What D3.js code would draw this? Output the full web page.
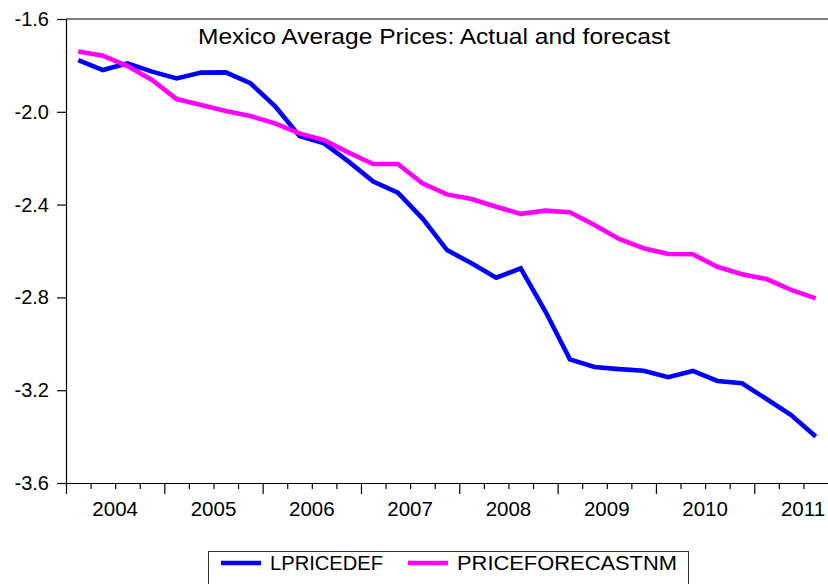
<!DOCTYPE html>
<html>
<head>
<meta charset="utf-8">
<script src="https://cdn.jsdelivr.net/npm/d3@7"></script>
<style>
  body { margin: 0; background: #fff; }
  svg { display: block; font-family: "Liberation Sans", Arial, sans-serif; }
</style>
</head>
<body>
<svg id="chart" width="828" height="584"></svg>
<script>
// quarterly observations, 2004Q1 .. 2011Q3
const startYear = 2004;
const lpricedef = [
  -1.777, -1.820, -1.791, -1.827, -1.856, -1.831, -1.830, -1.877,
  -1.975, -2.104, -2.136, -2.215, -2.301, -2.349, -2.459, -2.596,
  -2.653, -2.715, -2.675, -2.860, -3.067, -3.100, -3.109, -3.116,
  -3.144, -3.117, -3.160, -3.170, -3.238, -3.307, -3.400
];
const priceforecastnm = [
  -1.740, -1.758, -1.803, -1.863, -1.945, -1.971, -1.997, -2.018,
  -2.050, -2.093, -2.122, -2.176, -2.225, -2.225, -2.308, -2.356,
  -2.376, -2.409, -2.440, -2.426, -2.433, -2.488, -2.548, -2.588,
  -2.613, -2.614, -2.668, -2.700, -2.721, -2.768, -2.804
];
const yTicks = [-1.6, -2.0, -2.4, -2.8, -3.2, -3.6];
const seriesNames = ["LPRICEDEF", "PRICEFORECASTNM"];
const colors = ["#0000ff", "#ff00ff"];

const margin = { top: 19, right: 0, bottom: 101, left: 66 };
const width = 828, height = 584;
const n = lpricedef.length;

const svg = d3.select("#chart");

const x = d3.scaleLinear().domain([0, n]).range([margin.left, width - margin.right]);
const y = d3.scaleLinear().domain([-3.6, -1.6]).range([height - margin.bottom, margin.top]);

// frame top line
svg.append("line")
  .attr("x1", x(0)).attr("x2", x(n))
  .attr("y1", y(-1.6)).attr("y2", y(-1.6))
  .attr("stroke", "#000").attr("stroke-width", 1.2);

// left axis (plain hyphen for the minus sign)
const fmt = d => d.toFixed(1);
const yAxis = svg.append("g")
  .attr("transform", `translate(${margin.left},0)`)
  .call(d3.axisLeft(y).tickValues(yTicks).tickFormat(fmt).tickSize(9).tickSizeOuter(0).tickPadding(8));
yAxis.selectAll("text").attr("font-size", 20).attr("fill", "#000").attr("font-family", "Liberation Sans, Arial, sans-serif");
yAxis.selectAll("line, path").attr("stroke", "#000").attr("stroke-width", 1.2);

// bottom axis, quarter ticks with longer ticks at year starts
const xAxis = svg.append("g")
  .attr("transform", `translate(0,${y(-3.6)})`)
  .call(d3.axisBottom(x).tickValues(d3.range(0, n)).tickFormat("").tickSize(6).tickSizeOuter(0));
xAxis.selectAll(".tick line").attr("y2", d => d % 4 === 0 ? 11 : 6);
xAxis.selectAll("line, path").attr("stroke", "#000").attr("stroke-width", 1.2);

// year labels
const years = d3.range(startYear, startYear + Math.ceil(n / 4));
svg.append("g").selectAll("text")
  .data(years)
  .join("text")
  .attr("x", yr => Math.min(x((yr - startYear) * 4 + 2), width - 25))
  .attr("y", 516)
  .attr("text-anchor", "middle")
  .attr("font-size", 20.5)
  .text(yr => yr);

// series
const line = d3.line()
  .x((d, i) => x(i + 0.5))
  .y(d => y(d));

[lpricedef, priceforecastnm].forEach((s, k) => {
  svg.append("path")
    .datum(s)
    .attr("fill", "none")
    .attr("stroke", colors[k])
    .attr("stroke-width", 4.6)
    .attr("stroke-linejoin", "miter")
    .attr("d", line);
});

// title
svg.append("text")
  .attr("x", 434)
  .attr("y", 44)
  .attr("text-anchor", "middle")
  .attr("font-size", 22)
  .attr("textLength", 472)
  .attr("lengthAdjust", "spacingAndGlyphs")
  .text("Mexico Average Prices: Actual and forecast");

// legend
const lg = svg.append("g");
lg.append("rect")
  .attr("x", 208.5).attr("y", 551.5)
  .attr("width", 480).attr("height", 50)
  .attr("fill", "#fff").attr("stroke", "#333").attr("stroke-width", 1);
const legendX = [221, 408];
const legendW = [113, 220];
seriesNames.forEach((name, k) => {
  lg.append("line")
    .attr("x1", legendX[k]).attr("x2", legendX[k] + 40)
    .attr("y1", 563).attr("y2", 563)
    .attr("stroke", colors[k]).attr("stroke-width", 4.6);
  lg.append("text")
    .attr("x", legendX[k] + 49)
    .attr("y", 570)
    .attr("font-size", 20)
    .attr("textLength", legendW[k])
    .attr("lengthAdjust", "spacingAndGlyphs")
    .text(name);
});
</script>
</body>
</html>
